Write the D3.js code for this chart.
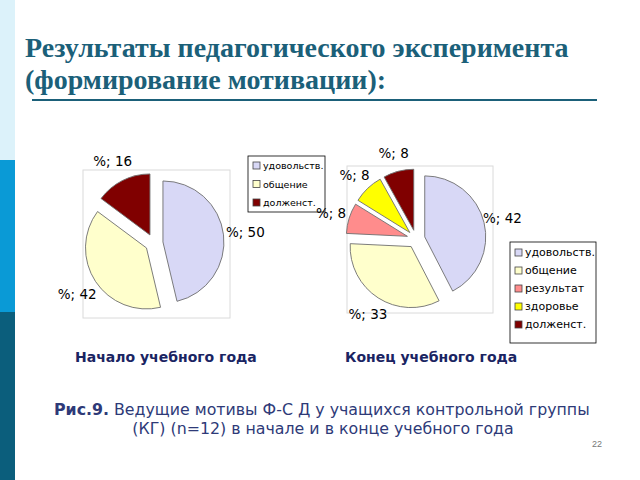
<!DOCTYPE html>
<html>
<head>
<meta charset="utf-8">
<script src="https://cdn.jsdelivr.net/npm/d3@7"></script>
<style>
  body { margin: 0; background: #fff; }
  svg { display: block; }
</style>
</head>
<body>
<div id="chart"></div>
<script>
// data
const startCategories = ['удовольств.', 'общение', 'долженст.'];
const startValues = [50, 42, 16];
const endCategories = ['удовольств.', 'общение', 'результат', 'здоровье', 'долженст.'];
const endValues = [42, 33, 8, 8, 8];
const titleLines = ['Результаты педагогического эксперимента', '(формирование мотивации):'];

const sliceColors = {
    'удовольств.': '#d8d8f6',
    'общение': '#ffffcc',
    'результат': '#ff8c8c',
    'здоровье': '#ffff00',
    'долженст.': '#800000'
};

const width = 640, height = 480;

const svg = d3.select('#chart')
    .append('svg')
    .attr('width', width)
    .attr('height', height);

// left stripe of the slide template
const stripe = [['#dcf2fa', 0, 160], ['#0a9ad6', 160, 312], ['#0b5e7c', 312, 480]];
svg.selectAll('rect.stripe')
    .data(stripe)
    .enter()
    .append('rect')
    .attr('class', 'stripe')
    .attr('x', 0)
    .attr('y', d => d[1])
    .attr('width', 15)
    .attr('height', d => d[2] - d[1])
    .attr('fill', d => d[0]);

// title
svg.selectAll('text.title')
    .data(titleLines)
    .enter()
    .append('text')
    .attr('class', 'title')
    .attr('x', 25)
    .attr('y', (d, i) => 57 + i * 32)
    .attr('font-family', 'Liberation Serif, serif')
    .attr('font-weight', 'bold')
    .attr('font-size', 28)
    .attr('fill', '#1b6079')
    .text(d => d);

svg.append('line')
    .attr('x1', 32).attr('x2', 597)
    .attr('y1', 100).attr('y2', 100)
    .attr('stroke', '#1b6079')
    .attr('stroke-width', 2);

function drawPie(opts) {
    const g = svg.append('g');

    // plot area frame
    g.append('rect')
        .attr('x', opts.frame[0]).attr('y', opts.frame[1])
        .attr('width', opts.frame[2]).attr('height', opts.frame[3])
        .attr('fill', 'none')
        .attr('stroke', '#dadada')
        .attr('stroke-width', 1);

    const pie = d3.pie().sort(null).value(d => d.value);
    const arcs = pie(opts.categories.map((c, i) => ({ cat: c, value: opts.values[i] })));
    const arc = d3.arc().innerRadius(0).outerRadius(opts.r);

    const pg = g.append('g').attr('transform', `translate(${opts.cx},${opts.cy})`);

    pg.selectAll('path')
        .data(arcs)
        .enter()
        .append('path')
        .attr('d', arc)
        .attr('transform', d => {
            const a = (d.startAngle + d.endAngle) / 2;
            return `translate(${Math.sin(a) * opts.explode},${-Math.cos(a) * opts.explode})`;
        })
        .attr('fill', d => sliceColors[d.data.cat])
        .attr('stroke', '#6e6e6e')
        .attr('stroke-width', 0.9);

    pg.selectAll('text')
        .data(arcs)
        .enter()
        .append('text')
        .attr('x', d => Math.sin((d.startAngle + d.endAngle) / 2) * opts.labelR)
        .attr('y', d => -Math.cos((d.startAngle + d.endAngle) / 2) * opts.labelR)
        .attr('text-anchor', 'middle')
        .attr('dominant-baseline', 'central')
        .attr('font-family', 'DejaVu Sans, Verdana, sans-serif')
        .attr('font-size', 13.5)
        .attr('fill', '#000')
        .text(d => '%; ' + d.data.value);

    // legend
    const lg = g.append('g');
    lg.append('rect')
        .attr('x', opts.legend.x).attr('y', opts.legend.y)
        .attr('width', opts.legend.w).attr('height', opts.legend.h)
        .attr('fill', '#fff')
        .attr('stroke', '#000')
        .attr('stroke-width', 0.8);

    const items = lg.selectAll('g.item')
        .data(opts.categories)
        .enter()
        .append('g')
        .attr('class', 'item')
        .attr('transform', (d, i) => `translate(${opts.legend.x + 5},${opts.legend.y + opts.legend.top + i * opts.legend.step})`);

    items.append('rect')
        .attr('x', 0).attr('y', -3.5)
        .attr('width', 7).attr('height', 7)
        .attr('fill', d => sliceColors[d])
        .attr('stroke', '#444')
        .attr('stroke-width', 0.8);

    items.append('text')
        .attr('x', 10)
        .attr('y', 0)
        .attr('dominant-baseline', 'central')
        .attr('font-family', 'DejaVu Sans, Verdana, sans-serif')
        .attr('font-size', opts.legend.fs)
        .attr('fill', '#000')
        .text(d => d);

    g.append('text')
        .attr('x', opts.caption[0])
        .attr('y', opts.caption[1])
        .attr('font-family', 'DejaVu Sans, Verdana, sans-serif')
        .attr('font-weight', 'bold')
        .attr('font-size', 14)
        .attr('fill', '#1a2462')
        .text(opts.caption[2]);
}

drawPie({
    categories: startCategories,
    values: startValues,
    cx: 154, cy: 243, r: 61, explode: 9, labelR: 92,
    frame: [83, 170, 147, 148],
    legend: { x: 248, y: 156, w: 77, h: 56, top: 9.5, step: 18.5, fs: 9.5 },
    caption: [75, 362, 'Начало учебного года']
});

drawPie({
    categories: endCategories,
    values: endValues,
    cx: 416, cy: 239, r: 61, explode: 9, labelR: 89,
    frame: [347, 166, 146, 147],
    legend: { x: 510, y: 242, w: 86, h: 101, top: 10.5, step: 18, fs: 11 },
    caption: [345, 362, 'Конец учебного года']
});

// figure caption
const cap = svg.append('text')
    .attr('font-family', 'DejaVu Sans, Verdana, sans-serif')
    .attr('font-size', 15.8)
    .attr('fill', '#2e3a78');
cap.append('tspan')
    .attr('x', 54).attr('y', 415)
    .attr('font-weight', 'bold')
    .text('Рис.9.');
cap.append('tspan')
    .text(' Ведущие мотивы Ф-С Д у учащихся контрольной группы');
svg.append('text')
    .attr('x', 323).attr('y', 434)
    .attr('text-anchor', 'middle')
    .attr('font-family', 'DejaVu Sans, Verdana, sans-serif')
    .attr('font-size', 15.8)
    .attr('fill', '#2e3a78')
    .text('(КГ) (n=12) в начале и в конце учебного года');

svg.append('text')
    .attr('x', 602).attr('y', 447)
    .attr('text-anchor', 'end')
    .attr('font-family', 'Liberation Sans, sans-serif')
    .attr('font-size', 9)
    .attr('fill', '#777')
    .text('22');
</script>
</body>
</html>
